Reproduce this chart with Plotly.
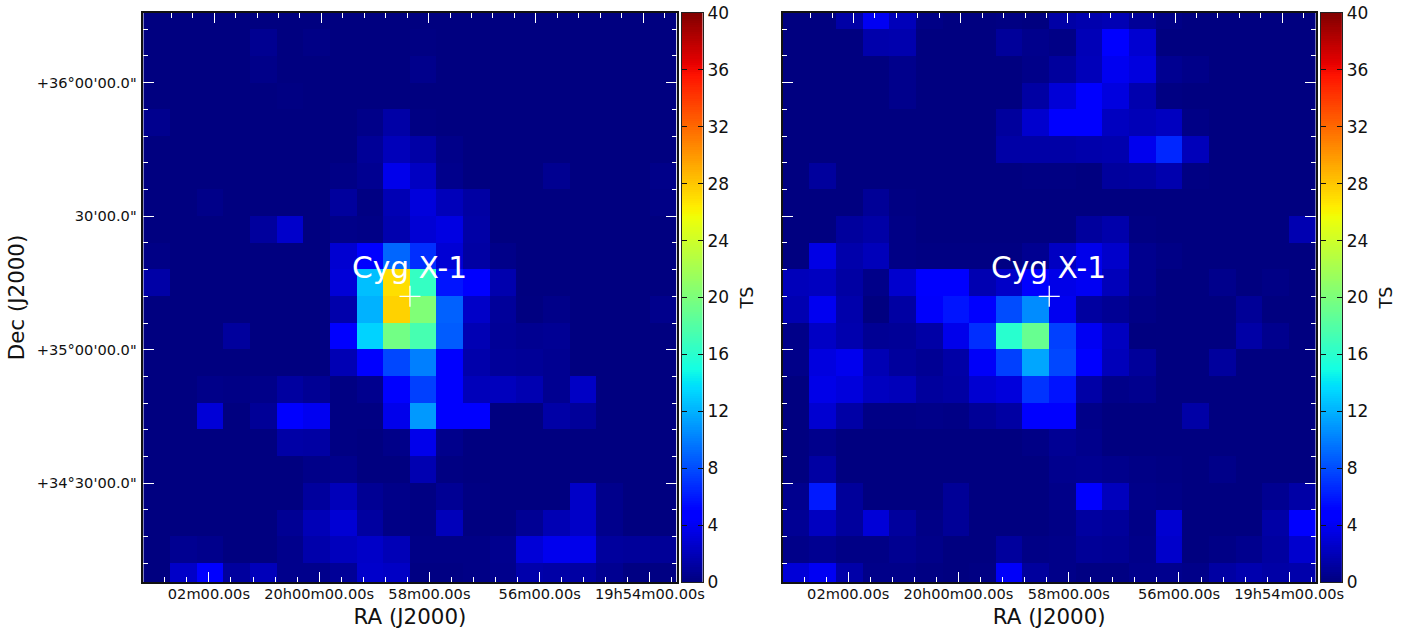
import numpy as np
import plotly.graph_objects as go

W, H = 1413, 633

# Test-statistic maps, rows listed top to bottom, columns left to right
ts_left = [
 [0,0,0,0,0,0,0,0,0,0,0,0,0,0,0,0,0,0,0,0],
 [0,0,0,0,.6,0,.2,0,0,0,.1,0,0,0,0,0,0,0,0,0],
 [0,0,0,0,.3,0,0,0,0,0,.4,0,0,0,0,0,0,0,0,0],
 [0,0,0,0,0,.1,0,0,0,0,0,0,0,0,0,0,0,0,0,0],
 [.5,0,0,0,0,0,0,0,.3,1.3,.1,0,0,0,0,0,0,0,0,0],
 [0,0,0,0,0,0,0,0,.8,2.0,1.3,.3,0,0,0,0,0,0,0,0],
 [0,0,0,0,0,0,0,.2,.6,3.7,2.3,.4,0,0,0,.6,0,0,0,.3],
 [0,0,.3,0,0,0,0,1.0,.1,1.8,3.2,2.0,1.2,0,0,0,0,0,0,.2],
 [0,0,0,0,1.0,2.6,0,.3,.2,1.6,2.9,3.4,1.3,0,0,0,0,0,0,0],
 [.2,0,0,0,0,0,0,2.8,4.5,9.0,6.8,2.9,1.2,.3,0,0,0,0,0,0],
 [1.3,0,0,0,0,0,0,3.0,12.5,27,16.5,5.8,4.8,1.6,0,0,0,0,0,0],
 [0,0,0,0,0,0,0,1.5,12,27.5,20.2,8.8,2.5,.9,.05,.3,0,0,0,.4],
 [0,0,0,1.0,0,0,0,4.4,13.3,19.5,17.4,8.6,1.8,.8,.6,.7,0,0,0,0],
 [0,0,0,0,0,0,0,1.8,4.5,7.8,10,4.6,1.5,.9,.8,.6,0,0,0,0],
 [0,0,.3,.2,.3,1.1,.7,.1,.5,5,7.5,4.6,2.0,2.1,1.7,.6,2.4,0,0,0],
 [0,0,3.0,0,.8,4.6,3.9,.1,.1,3.7,11,4.7,4.7,0,0,1.3,.9,0,0,0],
 [0,0,0,0,0,1.3,1.2,.1,0,.3,3.7,.4,0,0,0,0,0,0,0,0],
 [0,0,0,0,0,0,.3,.4,0,0,1.7,.1,0,0,0,0,0,0,0,0],
 [0,0,0,0,0,0,1.0,2.0,.7,.3,.1,.7,.1,0,0,0,2.5,.4,0,0],
 [0,0,0,0,0,.7,1.9,2.9,1.1,.2,.1,2.0,0,0,.7,1.8,2.5,.4,0,0],
 [0,.6,.4,0,0,.4,1.5,2.1,2.5,1.9,.2,.2,.2,.5,3.0,3.8,3.7,1.0,.9,.8],
 [0,2.5,4.5,1.0,2.0,.4,.4,.8,2.6,2.4,.1,.1,.2,.4,1.5,1.3,1.2,.6,.1,.1],
]
ts_right = [
 [0,0,1.3,4.0,2.0,.2,0,0,.1,0,1.3,1.6,1.8,.8,.2,0,0,0,0,0],
 [0,0,0,1.5,1.6,0,0,0,.9,.4,.2,1.9,4.6,2.8,0,0,0,0,0,0],
 [0,0,0,0,.4,0,0,0,0,.3,1.0,2.0,3.9,3.3,.6,.3,0,0,0,0],
 [0,0,0,0,.4,0,0,0,0,1.2,3.0,4.7,3.3,1.6,.1,0,0,0,0,0],
 [0,0,0,0,0,0,0,0,1.0,2.7,4.5,4.7,2.2,1.9,2.2,.2,0,0,0,0],
 [0,0,0,0,0,0,0,0,1.3,1.3,1.3,1.5,1.6,3.8,6.5,2.0,0,0,0,0],
 [0,1.0,0,0,0,0,0,0,0,.1,.1,0,1.0,1.1,1.6,.1,0,0,0,0],
 [0,0,0,.8,.1,0,0,0,0,0,0,0,0,0,0,0,0,0,0,0],
 [0,0,1.0,1.3,.2,0,0,0,0,0,0,1.0,1.5,.1,0,0,0,0,0,1.7],
 [0,3.5,1.5,2.0,.2,.1,.1,.1,.1,.6,2.3,3.7,2.6,.5,.2,0,0,0,0,0],
 [2.0,2.2,1.2,.3,2.7,4.5,4.5,1.7,2.5,4.6,3.6,4.0,2.0,.5,0,0,.4,0,.2,0],
 [1.7,3.9,1.5,0,1.2,4.3,5.8,4.7,8,10.5,3.9,1.1,.7,.2,0,0,0,.8,0,0],
 [.3,2.4,1.6,.7,.8,1.3,3.7,6.8,15.9,19,7.5,4.0,2.2,0,0,0,0,1.3,.5,0],
 [.3,3.3,3.8,1.8,1.0,.7,1.3,4.2,7.5,11.5,7.8,4.7,2.0,.9,0,0,1.0,0,0,0],
 [0,3.6,3.2,2.2,2.0,1.0,1.2,2.8,3.2,7,5.7,1.3,.3,.5,0,0,0,0,0,0],
 [0,2.8,1.3,.2,.2,.3,.2,.8,1.2,4.7,4.7,.3,0,0,0,1.3,0,0,0,0],
 [0,.4,0,0,0,0,0,0,0,.2,.7,.4,0,0,0,0,0,0,0,0],
 [0,1.2,0,0,0,0,0,0,0,0,.5,.6,.4,.2,.1,0,.3,0,0,0],
 [.5,6,.9,0,0,0,.8,0,0,0,.3,4.8,2.1,.3,.2,0,0,0,.6,1.3],
 [.7,2.2,1.0,3.0,1.0,.2,.8,0,0,0,.2,1.1,.9,.2,2.8,0,0,0,1.3,4.5],
 [.3,.6,.2,.2,.6,.3,0,0,1.0,.2,.3,.8,.7,.3,2.6,0,.2,.5,1.1,2.7],
 [3.0,4.0,1.4,.3,.3,.1,0,.1,4.2,1.0,.3,.1,.1,.4,.5,.3,1.2,1.6,1.3,1.5],
]

ra_labels = ["02m00.00s", "20h00m00.00s", "58m00.00s", "56m00.00s", "19h54m00.00s"]
dec_labels = ['+34°30\'00.0"', '+35°00\'00.0"', '30\'00.0"', '+36°00\'00.0"']
cbar_ticks = [0, 4, 8, 12, 16, 20, 24, 28, 32, 36, 40]
source_name = "Cyg X-1"
TS_MAX = 40

# matplotlib "jet"
_r = [(0, 0), (.35, 0), (.66, 1), (.89, 1), (1, .5)]
_g = [(0, 0), (.125, 0), (.375, 1), (.64, 1), (.91, 0), (1, 0)]
_b = [(0, .5), (.11, 1), (.34, 1), (.65, 0), (1, 0)]
stops = sorted({p for c in (_r, _g, _b) for p, _ in c})
def ch(c, t):
    return int(round(255 * np.interp(t, [p for p, _ in c], [v for _, v in c])))
jet = [[t, f"rgb({ch(_r,t)},{ch(_g,t)},{ch(_b,t)})"] for t in stops]

FONT = "DejaVu Sans"
INK = "#111111"
X_RANGE = [-0.5, 19.5]
Y_RANGE = [-0.2, 21.11]

# tick positions in map pixels
bot_major = [1.96 + 4.135 * i for i in range(5)]
bot_minor = [1.96 + 0.827 * i for i in range(-2, 22)]
top_major = [2.16 + 4.02 * i for i in range(5)]
top_minor = [2.16 + 0.804 * i for i in range(-2, 23)]
dec_major = [3.5, 8.5, 13.5, 18.5]
dec_minor = [0.5 + i for i in range(21)]

panels = [
    dict(z=ts_left, x0=143.3, idx=0),
    dict(z=ts_right, x0=782.6, idx=1),
]
TOP, BOT = 13.0, 582.0
PW = 533.3

fig = go.Figure()
layout = {}
annotations = []

def dom(a, b):
    return [a / W, b / W]
YDOM = [1 - BOT / H, 1 - TOP / H]

for p in panels:
    i = p["idx"]
    base = i * 4
    xn, yn, xt, cx, cy = base + 1, base + 1, base + 2, base + 3, base + 2
    xa = "x" if xn == 1 else f"x{xn}"
    ya = "y" if yn == 1 else f"y{yn}"
    xta = f"x{xt}"
    cxa, cya = f"x{cx}", f"y{cy}"
    fig.add_trace(go.Heatmap(z=p["z"][::-1], xaxis=xa, yaxis=ya, colorscale=jet,
                             zmin=0, zmax=TS_MAX, showscale=False,
                             hovertemplate="TS %{z}<extra></extra>"))
    # source position marker
    fig.add_trace(go.Scatter(x=[9.5], y=[10.5], xaxis=xa, yaxis=ya, mode="markers",
                             marker=dict(symbol="cross-thin", size=15,
                                         line=dict(color="white", width=1.3)),
                             showlegend=False, hoverinfo="skip"))
    # empty carrier for the top RA axis
    fig.add_trace(go.Scatter(x=[None], y=[None], xaxis=xta, yaxis=ya, showlegend=False,
                             hoverinfo="skip"))
    # colour bar drawn as a gradient on its own axes
    levels = np.linspace(0, TS_MAX, 257)
    fig.add_trace(go.Heatmap(z=[[v] for v in levels], y=levels, x=[0], xaxis=cxa, yaxis=cya,
                             colorscale=jet, zmin=0, zmax=TS_MAX, showscale=False,
                             hoverinfo="skip"))
    x0 = p["x0"]
    common_line = dict(showline=True, linecolor="#111111", linewidth=1.5, showgrid=False,
                       zeroline=False, automargin=False)
    layout["xaxis" if xn == 1 else f"xaxis{xn}"] = dict(
        domain=dom(x0, x0 + PW), range=X_RANGE, anchor=ya, side="bottom",
        tickmode="array", tickvals=bot_major, ticktext=ra_labels,
        ticks="inside", ticklen=10, tickcolor="white", tickwidth=1,
        minor=dict(tickmode="array", tickvals=bot_minor, ticks="inside", ticklen=5,
                   tickcolor="white", tickwidth=1),
        tickfont=dict(family=FONT, size=14.6, color=INK),
        ticklabelstandoff=-2,
        title=dict(text="RA (J2000)", font=dict(family=FONT, size=21.4, color=INK), standoff=8),
        **common_line)
    layout[f"xaxis{xt}"] = dict(
        domain=dom(x0, x0 + PW), range=X_RANGE, anchor=ya, side="top", overlaying=xa,
        tickmode="array", tickvals=top_major, showticklabels=False,
        ticks="inside", ticklen=10, tickcolor="white", tickwidth=1,
        minor=dict(tickmode="array", tickvals=top_minor, ticks="inside", ticklen=5,
                   tickcolor="white", tickwidth=1),
        **common_line)
    ykw = dict(
        domain=YDOM, range=Y_RANGE, anchor=xa, side="left", mirror="ticks",
        tickmode="array", tickvals=dec_major,
        ticks="inside", ticklen=11, tickcolor="white", tickwidth=1,
        minor=dict(tickmode="array", tickvals=dec_minor, ticks="inside", ticklen=5,
                   tickcolor="white", tickwidth=1),
        **common_line)
    if i == 0:
        ykw.update(ticktext=dec_labels,
                   tickfont=dict(family=FONT, size=14.6, color=INK),
                   ticklabelstandoff=2,
                   title=dict(text="Dec (J2000)", font=dict(family=FONT, size=21.4, color=INK), standoff=6))
    else:
        ykw.update(showticklabels=False)
    layout["yaxis" if yn == 1 else f"yaxis{yn}"] = ykw

    cbx = x0 + PW + 5
    layout[f"xaxis{cx}"] = dict(domain=dom(cbx, cbx + 21.3), anchor=cya, range=[-0.5, 0.5],
                                showticklabels=False, ticks="", showgrid=False, zeroline=False,
                                showline=True, mirror=True, linecolor="#222222", linewidth=1.2,
                                automargin=False)
    layout[f"yaxis{cy}"] = dict(domain=YDOM, anchor=cxa, side="right", range=[0, TS_MAX],
                                tickmode="array", tickvals=cbar_ticks,
                                ticks="inside", ticklen=5, tickcolor="#111111", tickwidth=1,
                                mirror="ticks", showline=True, linecolor="#222222", linewidth=1.2,
                                showgrid=False, zeroline=False, automargin=False,
                                tickfont=dict(family=FONT, size=17, color=INK),
                                title=dict(text="TS", font=dict(family=FONT, size=17.5, color=INK), standoff=12))
    annotations.append(dict(text=source_name, x=9.48, y=11.57, xref=xa, yref=ya, showarrow=False,
                            font=dict(family=FONT, size=29.7, color="white"),
                            xanchor="center", yanchor="middle"))

fig.update_layout(width=W, height=H, margin=dict(l=0, r=0, t=0, b=0), autosize=False,
                  paper_bgcolor="white", plot_bgcolor="white", showlegend=False,
                  annotations=annotations, **layout)

fig.write_html("out.html", config={"displayModeBar": False},
               post_script="document.body.style.margin='0';")
